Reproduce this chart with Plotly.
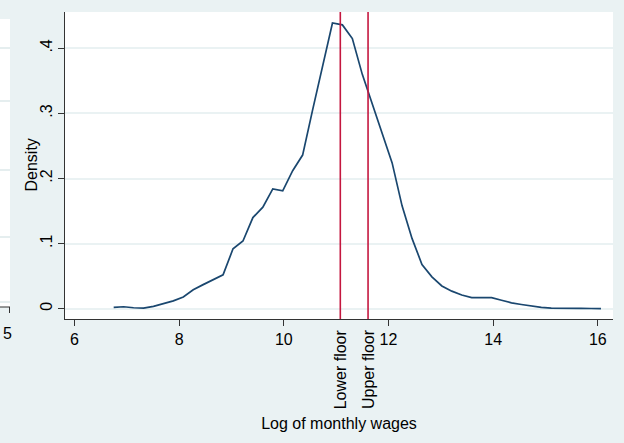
import plotly.graph_objects as go

# Kernel density of log monthly wages
log_wage = [6.75, 6.94, 7.13, 7.32, 7.51, 7.70, 7.89, 8.08, 8.27, 8.46,
            8.65, 8.84, 9.03, 9.22, 9.41, 9.60, 9.79, 9.98, 10.17, 10.36,
            10.55, 10.74, 10.93, 11.12, 11.31, 11.50, 11.69, 11.88, 12.07, 12.26,
            12.45, 12.64, 12.83, 13.02, 13.21, 13.40, 13.59, 13.78, 13.97, 14.16,
            14.35, 14.54, 14.73, 14.92, 15.11, 15.30, 15.49, 15.68, 15.87, 16.06]
density = [0.002, 0.003, 0.0015, 0.001, 0.0037, 0.0077, 0.012, 0.018, 0.029, 0.037,
           0.045, 0.052, 0.092, 0.104, 0.140, 0.156, 0.184, 0.181, 0.212, 0.236,
           0.305, 0.373, 0.439, 0.436, 0.415, 0.360, 0.315, 0.268, 0.224, 0.158,
           0.108, 0.068, 0.049, 0.035, 0.027, 0.021, 0.017, 0.017, 0.017, 0.013,
           0.009, 0.0065, 0.004, 0.002, 0.001, 0.0005, 0.0005, 0.0005, 0.0003, 0.0]

# Minimum-wage floors (log scale)
floor_names = ["Lower floor", "Upper floor"]
floor_values = [11.08, 11.61]

x_ticks = [6, 8, 10, 12, 14, 16]
y_ticks = [0, 0.1, 0.2, 0.3, 0.4]
y_tick_text = ["0", ".1", ".2", ".3", ".4"]

W, H = 624, 443
L, R, T, B = 65, 11, 12, 124
PW, PH = W - L - R, H - T - B

BG = "#EAF2F3"
NAVY = "#1A476F"
RED = "#C4173F"
FONT = "Liberation Sans, Arial, sans-serif"
FS = 16


def px_x(p):
    return (p - L) / PW


def px_y(p):
    return (H - B - p) / PH


fig = go.Figure()
fig.add_trace(go.Scatter(x=log_wage, y=density, mode="lines",
                         line=dict(color=NAVY, width=1.7), showlegend=False,
                         hoverinfo="skip"))

shapes = []
for v in floor_values:
    shapes.append(dict(type="line", xref="x", yref="paper", x0=v, x1=v, y0=0, y1=1,
                       line=dict(color=RED, width=1.6)))

# edge of the neighbouring panel on the left
shapes.append(dict(type="rect", xref="paper", yref="paper",
                   x0=px_x(0), x1=px_x(10), y0=px_y(307), y1=px_y(19),
                   fillcolor="white", line=dict(width=0), layer="below"))
for gy in [48, 101, 170, 237, 302]:
    shapes.append(dict(type="line", xref="paper", yref="paper",
                       x0=px_x(0), x1=px_x(10), y0=px_y(gy), y1=px_y(gy),
                       line=dict(color="#DDE8EA", width=1.5)))
shapes.append(dict(type="line", xref="paper", yref="paper",
                   x0=px_x(0), x1=px_x(10), y0=px_y(307), y1=px_y(307),
                   line=dict(color="#333333", width=1)))
shapes.append(dict(type="line", xref="paper", yref="paper",
                   x0=px_x(9.5), x1=px_x(9.5), y0=px_y(307), y1=px_y(313),
                   line=dict(color="#333333", width=1)))

annotations = []
for name, v in zip(floor_names, floor_values):
    annotations.append(dict(text=name, x=v, xref="x", y=px_y(327), yref="paper",
                            xanchor="center", yanchor="top", textangle=-90,
                            showarrow=False, font=dict(family=FONT, size=FS, color="black")))
annotations.append(dict(text="5", x=px_x(0.5), xref="paper", y=px_y(333), yref="paper",
                        xanchor="left", yanchor="middle", showarrow=False,
                        font=dict(family=FONT, size=FS, color="black")))
# y-axis title
annotations.append(dict(text="Density", x=px_x(31), xref="paper", y=0.5, yref="paper",
                        xanchor="center", yanchor="middle", textangle=-90,
                        showarrow=False, font=dict(family=FONT, size=FS, color="black")))

fig.update_layout(
    width=W, height=H,
    margin=dict(l=L, r=R, t=T, b=B),
    paper_bgcolor=BG, plot_bgcolor="white",
    font=dict(family=FONT, size=FS, color="black"),
    shapes=shapes, annotations=annotations,
    xaxis=dict(range=[5.82, 16.29], tickvals=x_ticks, ticks="outside", ticklen=6,
               tickcolor="#333333", showline=True, linecolor="#333333", linewidth=1,
               showgrid=False, zeroline=False,
               title=dict(text="Log of monthly wages", standoff=70,
                          font=dict(size=FS))),
    yaxis=dict(range=[-0.0158, 0.4558], tickvals=y_ticks, ticktext=y_tick_text,
               tickangle=-90, ticks="outside", ticklen=6, tickcolor="#333333",
               showline=True, linecolor="#333333", linewidth=1,
               showgrid=True, gridcolor=BG, gridwidth=1.5, zeroline=False),
)

fig.write_html("out.html")
